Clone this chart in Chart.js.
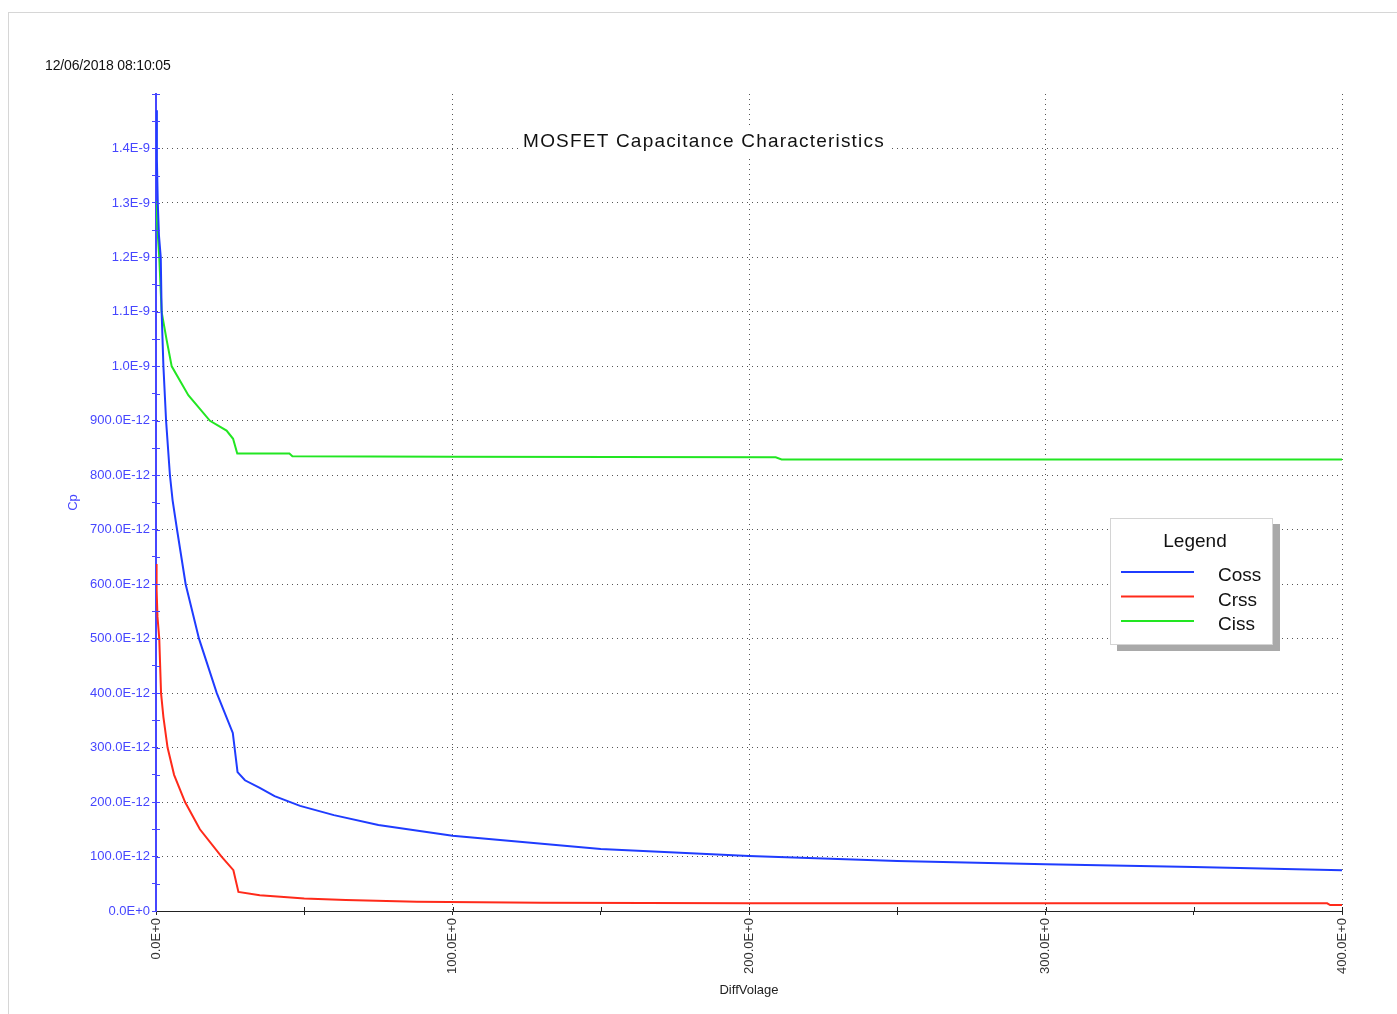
<!DOCTYPE html>
<html>
<head>
<meta charset="utf-8">
<script src="https://cdn.jsdelivr.net/npm/chart.js@4.4.1/dist/chart.umd.min.js"></script>
<style>
    html, body { margin: 0; padding: 0; background: #fff; overflow: hidden; }
    #frame { position: absolute; left: 8px; top: 12px; width: 1400px; height: 1010px;
             border-left: 1px solid #d6d6d6; border-top: 1px solid #d6d6d6; }
    #stamp { position: absolute; left: 45px; top: 57px; font: 14px "Liberation Sans", Arial, sans-serif;
             color: #111; letter-spacing: -0.15px; }
    #wrap { position: absolute; left: 0; top: 0; width: 1397px; height: 1014px; }
</style>
</head>
<body>
<div id="frame"></div>
<div id="wrap"><canvas id="mainChart" width="1397" height="1014"></canvas></div>
<div id="stamp">12/06/2018 08:10:05</div>
<script>
// Values: volts on x, picofarads on y
const cossV  = [0, 0.3, 0.6, 1.0, 1.6, 1.9, 2.5, 3.4, 4.7, 5.6, 7.1, 10, 14.5, 20.5, 25.9, 27.5, 30, 35, 40, 48.6, 60, 75, 100, 150, 200, 250, 300, 350, 400];
const cossPF = [1470, 1380, 1300, 1240, 1200, 1100, 1000, 900, 800, 754, 700, 600, 500, 400, 327, 255, 240, 226, 211, 193, 176, 158, 138, 114, 101, 92, 86, 81, 75];

const crssV  = [0, 0.2, 0.5, 1.1, 1.7, 2.5, 3.9, 6.1, 9.8, 14.8, 22.1, 26.1, 27.8, 35, 42, 50, 64, 88, 130, 200, 300, 395, 396, 400];
const crssPF = [637, 590, 540, 500, 400, 356, 300, 250, 200, 150, 100, 75, 35, 29, 26, 23, 20, 17, 15, 14, 14, 14, 11, 11];

const cissV  = [0, 0.3, 1.1, 1.9, 3.6, 5.3, 10.9, 18.2, 23.8, 26, 27.4, 45, 46, 100, 209, 211, 400];
const cissPF = [1303, 1268, 1200, 1100, 1048, 1000, 947, 900, 882, 867, 840, 840, 835, 834, 833, 829, 829];

const seriesNames = ['Coss', 'Crss', 'Ciss'];
const seriesColors = ['#1f3cff', '#ff2a1a', '#22e622'];

const yMaxPF = 1500;
const xMaxV = 400;

const FONT = '"Liberation Sans", Arial, sans-serif';
const AXIS_BLUE = '#4646ff';

function toPoints(xs, ys) {
    return xs.map((x, i) => ({ x: x, y: ys[i] }));
}

function fmtY(v) {
    if (v === 0) return '0.0E+0';
    if (v < 1000) return v.toFixed(1) + 'E-12';
    return (v / 1000).toFixed(1) + 'E-9';
}

function fmtX(v) {
    return v === 0 ? '0.0E+0' : v.toFixed(1) + 'E+0';
}

// title drawn over the grid with a white backing, plus inner halves of tick marks
const decorPlugin = {
    id: 'decor',
    afterDraw(chart) {
        const ctx = chart.ctx;
        const area = chart.chartArea;
        const xs = chart.scales.x, ys = chart.scales.y;
        ctx.save();

        // inner tick halves
        ctx.lineWidth = 1;
        ctx.strokeStyle = AXIS_BLUE;
        for (let v = 50; v < yMaxPF; v += 50) {
            const py = Math.round(ys.getPixelForValue(v)) + 0.5;
            ctx.beginPath();
            ctx.moveTo(area.left, py);
            ctx.lineTo(area.left + 4, py);
            ctx.stroke();
        }
        ctx.beginPath();
        ctx.moveTo(area.left - 4, area.top + 0.5);
        ctx.lineTo(area.left + 4, area.top + 0.5);
        ctx.stroke();
        ctx.strokeStyle = '#222';
        for (let v = 50; v <= xMaxV; v += 50) {
            const px = Math.round(xs.getPixelForValue(v)) + 0.5;
            ctx.beginPath();
            ctx.moveTo(px, area.bottom);
            ctx.lineTo(px, area.bottom - 4);
            ctx.stroke();
        }

        // chart title
        const title = 'MOSFET Capacitance Characteristics';
        ctx.font = '19px ' + FONT;
        ctx.letterSpacing = '1.2px';
        const w = ctx.measureText(title).width;
        const cx = 704, cy = 142;
        ctx.fillStyle = '#fff';
        ctx.fillRect(cx - w / 2 - 4, cy - 13, w + 8, 26);
        ctx.fillStyle = '#111';
        ctx.textAlign = 'center';
        ctx.textBaseline = 'middle';
        ctx.fillText(title, cx, cy);
        ctx.letterSpacing = '0px';

        // legend box
        const bx = 1110, by = 518, bw = 163, bh = 127;
        ctx.fillStyle = '#a9a9a9';
        ctx.fillRect(bx + 7, by + 6, bw, bh);
        ctx.fillStyle = '#fff';
        ctx.fillRect(bx, by, bw, bh);
        ctx.strokeStyle = '#d4d4d4';
        ctx.strokeRect(bx + 0.5, by + 0.5, bw - 1, bh - 1);

        ctx.fillStyle = '#111';
        ctx.font = '19px ' + FONT;
        ctx.textAlign = 'center';
        ctx.fillText('Legend', 1195, 542);
        ctx.textAlign = 'left';
        chart.data.datasets.forEach((ds, i) => {
            const ly = 572 + i * 24.5;
            ctx.strokeStyle = ds.borderColor;
            ctx.lineWidth = 2;
            ctx.beginPath();
            ctx.moveTo(1121, ly);
            ctx.lineTo(1194, ly);
            ctx.stroke();
            ctx.fillStyle = '#111';
            ctx.fillText(ds.label, 1218, ly + 4);
        });
        ctx.restore();
    }
};

const ctx = document.getElementById('mainChart').getContext('2d');
new Chart(ctx, {
    type: 'line',
    data: {
        datasets: [
            { label: seriesNames[0], data: toPoints(cossV, cossPF), borderColor: seriesColors[0] },
            { label: seriesNames[1], data: toPoints(crssV, crssPF), borderColor: seriesColors[1] },
            { label: seriesNames[2], data: toPoints(cissV, cissPF), borderColor: seriesColors[2] }
        ]
    },
    options: {
        responsive: false,
        animation: false,
        devicePixelRatio: 1,
        datasets: {
            line: { borderWidth: 2, pointRadius: 0, tension: 0, fill: false }
        },
        layout: { padding: { left: 66, top: 94, right: 55, bottom: 14 } },
        plugins: {
            legend: { display: false },
            tooltip: { enabled: false }
        },
        scales: {
            x: {
                type: 'linear',
                min: 0,
                max: xMaxV,
                afterFit: s => { s.height = 89; },
                ticks: {
                    stepSize: 50,
                    autoSkip: false,
                    minRotation: 90,
                    maxRotation: 90,
                    padding: 3,
                    color: '#333',
                    font: { family: FONT, size: 13 },
                    callback: v => (v % 100 === 0 ? fmtX(v) : '')
                },
                grid: {
                    color: c => (c.tick && c.tick.value % 100 === 0 && c.tick.value !== 0 ? '#555' : 'transparent'),
                    tickColor: '#222',
                    tickLength: 4,
                    lineWidth: 1
                },
                border: { color: '#222', width: 1, dash: [1, 4] },
                title: {
                    display: true,
                    text: 'DiffVolage',
                    color: '#222',
                    padding: { top: 0, bottom: 2 },
                    font: { family: FONT, size: 13 }
                }
            },
            y: {
                type: 'linear',
                min: 0,
                max: yMaxPF,
                afterFit: s => { s.width = 90; },
                ticks: {
                    stepSize: 50,
                    autoSkip: false,
                    padding: 2,
                    color: AXIS_BLUE,
                    font: { family: FONT, size: 13 },
                    callback: v => (v % 100 === 0 && v !== yMaxPF ? fmtY(v) : '')
                },
                grid: {
                    color: c => (c.tick && c.tick.value % 100 === 0 && c.tick.value !== 0 && c.tick.value !== yMaxPF ? '#555' : 'transparent'),
                    tickColor: AXIS_BLUE,
                    tickLength: 4,
                    lineWidth: 1
                },
                border: { color: AXIS_BLUE, width: 2, dash: [1, 4] },
                title: {
                    display: true,
                    text: 'Cp',
                    color: AXIS_BLUE,
                    padding: { top: 0, bottom: 0 },
                    font: { family: FONT, size: 13 }
                }
            }
        }
    },
    plugins: [decorPlugin]
});
</script>
</body>
</html>
